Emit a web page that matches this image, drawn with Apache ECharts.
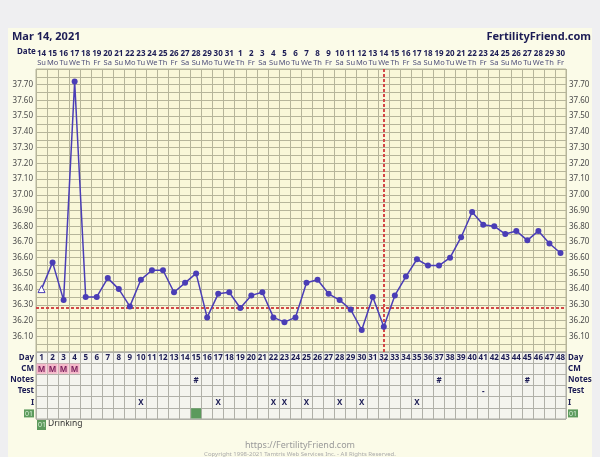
<!DOCTYPE html>
<html><head><meta charset="utf-8">
<script src="https://cdn.jsdelivr.net/npm/echarts@6/dist/echarts.min.js"></script>
<style>html,body{margin:0;padding:0;background:#efeff1;}#c{width:600px;height:457px;}</style>
</head><body><div id="c"></div>
<script>
// ---- data ----
var days = ['1','2','3','4','5','6','7','8','9','10','11','12','13','14','15','16','17','18','19','20','21','22','23','24','25','26','27','28','29','30','31','32','33','34','35','36','37','38','39','40','41','42','43','44','45','46','47','48'];
var dates = ['14','15','16','17','18','19','20','21','22','23','24','25','26','27','28','29','30','31','1','2','3','4','5','6','7','8','9','10','11','12','13','14','15','16','17','18','19','20','21','22','23','24','25','26','27','28','29','30'];
var dows = ['Su','Mo','Tu','We','Th','Fr','Sa','Su','Mo','Tu','We','Th','Fr','Sa','Su','Mo','Tu','We','Th','Fr','Sa','Su','Mo','Tu','We','Th','Fr','Sa','Su','Mo','Tu','We','Th','Fr','Sa','Su','Mo','Tu','We','Th','Fr','Sa','Su','Mo','Tu','We','Th','Fr'];
var temps = [36.40,36.57,36.33,37.72,36.35,36.35,36.47,36.40,36.29,36.46,
             36.52,36.52,36.38,36.44,36.50,36.22,36.37,36.38,36.28,36.36,
             36.38,36.22,36.19,36.22,36.44,36.46,36.37,36.33,36.27,36.14,
             36.35,36.16,36.36,36.48,36.59,36.55,36.55,36.60,36.73,36.89,
             36.81,36.80,36.75,36.77,36.71,36.77,36.69,36.63];
var coverline = 36.28;
var ovulationDay = '32';
var rows = ['Day','CM','Notes','Test','I','01'];
var cmDays = [1,2,3,4];
var notesDays = [15,37,45];
var testDays = [41];
var intercourseDays = [10,17,22,23,25,28,30,35];
var drinkingDays = [15];

// ---- build ----
var FONT = '"Noto Sans","DejaVu Sans",sans-serif';
var NAVY = '#1c1c55';
var LINE = '#4a3db6';
var GRIDC = '#b6b59a';

var cells = [];
days.forEach(function(d, i){ cells.push({x:i, y:0, text:d}); });
cmDays.forEach(function(d){ cells.push({x:d-1, y:1, text:'M', bg:'#f5b8c9', color:'#7a1f5c'}); });
notesDays.forEach(function(d){ cells.push({x:d-1, y:2, text:'#'}); });
testDays.forEach(function(d){ cells.push({x:d-1, y:3, text:'-'}); });
intercourseDays.forEach(function(d){ cells.push({x:d-1, y:4, text:'X'}); });
drinkingDays.forEach(function(d){ cells.push({x:d-1, y:5, text:'', bg:'#5c9a5c'}); });

var seriesData = temps.map(function(t, i){
  if (i === 0) return {value:t, symbol:'triangle', symbolSize:7,
    itemStyle:{color:'#ffffff', borderColor:LINE, borderWidth:1}};
  return t;
});

function rowLabel(v){ return v === '01' ? '{g|01}' : '{b|' + v + '}'; }
var rowRich = {
  b:{fontFamily:FONT, fontWeight:'bold', fontSize:8, color:NAVY},
  g:{fontFamily:FONT, fontSize:7, color:'#d8efd8', backgroundColor:'#5c9a5c', padding:[1,1,0,1]}
};
function tempLabel(v){ var c = Math.round(v*100); if (c % 10 !== 0 || c < 3610 || c > 3770) return ''; return (c/100).toFixed(2); }

var chart = echarts.init(document.getElementById('c'), null, {renderer:'canvas'});
chart.setOption({
  animation:false,
  backgroundColor:'#efeff1',
  graphic:[
    {type:'rect', shape:{x:8, y:28, width:584, height:429}, style:{fill:'#fbfbe8'}, z:-10},
    {type:'text', left:12, top:31, style:{text:'Mar 14, 2021', font:'bold 11px ' + FONT, fill:NAVY}},
    {type:'text', right:9, top:31, style:{text:'FertilityFriend.com', font:'bold 11px ' + FONT, fill:NAVY}},
    {type:'text', left:17, top:48, style:{text:'Date', font:'bold 8px ' + FONT, fill:NAVY}},
    {type:'rect', shape:{x:37, y:420, width:9, height:10}, style:{fill:'#5c9a5c'}},
    {type:'text', left:38, top:421, style:{text:'01', font:'7px ' + FONT, fill:'#d8efd8'}},
    {type:'text', left:48, top:419, style:{text:'Drinking', font:'8.5px ' + FONT, fill:'#333'}},
    {type:'text', left:'center', top:441, style:{text:'https://FertilityFriend.com', font:'9px ' + FONT, fill:'#9a9a9a', textAlign:'center'}},
    {type:'text', left:'center', top:451, style:{text:'Copyright 1998-2021 Tamtris Web Services Inc. - All Rights Reserved.', font:'6px ' + FONT, fill:'#aaaaaa', textAlign:'center'}}
  ],
  grid:[
    {left:36, right:34, top:69, height:283, show:true, backgroundColor:'#f9f7d8', borderColor:GRIDC, borderWidth:1},
    {left:36, right:34, top:352, height:67, show:true, backgroundColor:'#f4f4ee', borderColor:'#a9a9a0', borderWidth:1}
  ],
  xAxis:[
    {type:'category', gridIndex:0, data:days, boundaryGap:true,
     axisLine:{show:false}, axisTick:{show:false}, axisLabel:{show:false},
     splitLine:{show:true, interval:0, lineStyle:{color:GRIDC, width:1}}},
    {type:'category', gridIndex:0, data:days, position:'top', boundaryGap:true,
     axisLine:{show:false}, axisTick:{show:false},
     axisLabel:{interval:0, margin:2, lineHeight:9,
       formatter:function(v, i){ return '{d|' + dates[i] + '}\n{w|' + dows[i] + '}'; },
       rich:{d:{fontFamily:FONT, fontWeight:'bold', fontSize:8, color:NAVY, lineHeight:9},
             w:{fontFamily:FONT, fontSize:7.5, color:'#50507a', lineHeight:9}}}},
    {type:'category', gridIndex:1, data:days, boundaryGap:true,
     axisLine:{show:false}, axisTick:{show:false}, axisLabel:{show:false},
     splitLine:{show:true, interval:0, lineStyle:{color:'#b0b0a8', width:1}}}
  ],
  yAxis:[
    {type:'value', gridIndex:0, min:36.0, max:37.8, interval:0.1,
     axisLine:{show:false}, axisTick:{show:false},
     splitLine:{show:true, lineStyle:{color:GRIDC, width:1}},
     minorTick:{show:false, splitNumber:2},
     minorSplitLine:{show:true, lineStyle:{color:GRIDC, width:1}},
     axisLabel:{margin:3, fontFamily:FONT, fontSize:8, color:'#4a4a4a', formatter:tempLabel}},
    {type:'value', gridIndex:0, min:36.0, max:37.8, interval:0.1, position:'right',
     axisLine:{show:false}, axisTick:{show:false}, splitLine:{show:false},
     axisLabel:{margin:3, fontFamily:FONT, fontSize:8, color:'#4a4a4a', formatter:tempLabel}},
    {type:'category', gridIndex:1, data:rows, inverse:true,
     axisLine:{show:false}, axisTick:{show:false},
     splitLine:{show:true, interval:0, lineStyle:{color:'#b0b0a8'}},
     axisLabel:{interval:0, margin:2, formatter:rowLabel, rich:rowRich}},
    {type:'category', gridIndex:1, data:rows, inverse:true, position:'right',
     axisLine:{show:false}, axisTick:{show:false}, splitLine:{show:false},
     axisLabel:{interval:0, margin:2, formatter:rowLabel, rich:rowRich}}
  ],
  series:[
    {type:'line', xAxisIndex:0, yAxisIndex:0, data:seriesData,
     symbol:'circle', symbolSize:6, showAllSymbol:true,
     lineStyle:{color:LINE, width:1.5}, itemStyle:{color:LINE},
     z:5,
     markLine:{silent:true, symbol:'none', label:{show:false},
       lineStyle:{color:'#d24848', type:[3,2], width:2},
       data:[{yAxis:coverline}, {xAxis:ovulationDay}]}},
    {type:'custom', xAxisIndex:2, yAxisIndex:2, coordinateSystem:'cartesian2d',
     data:cells.map(function(c){ return [c.x, c.y]; }),
     renderItem:function(params, api){
       var c = cells[params.dataIndex];
       var p = api.coord([api.value(0), api.value(1)]);
       var s = api.size([1, 1]);
       var children = [];
       if (c.bg) children.push({type:'rect',
         shape:{x:p[0]-s[0]/2+0.5, y:p[1]-s[1]/2+0.5, width:s[0]-1, height:s[1]-1},
         style:{fill:c.bg}});
       if (c.text) children.push({type:'text',
         style:{text:c.text, x:p[0], y:p[1]+0.5, align:'center', verticalAlign:'middle',
           font:'bold 8px ' + FONT, fill:c.color || NAVY}});
       return {type:'group', children:children};
     }}
  ]
});
</script></body></html>
